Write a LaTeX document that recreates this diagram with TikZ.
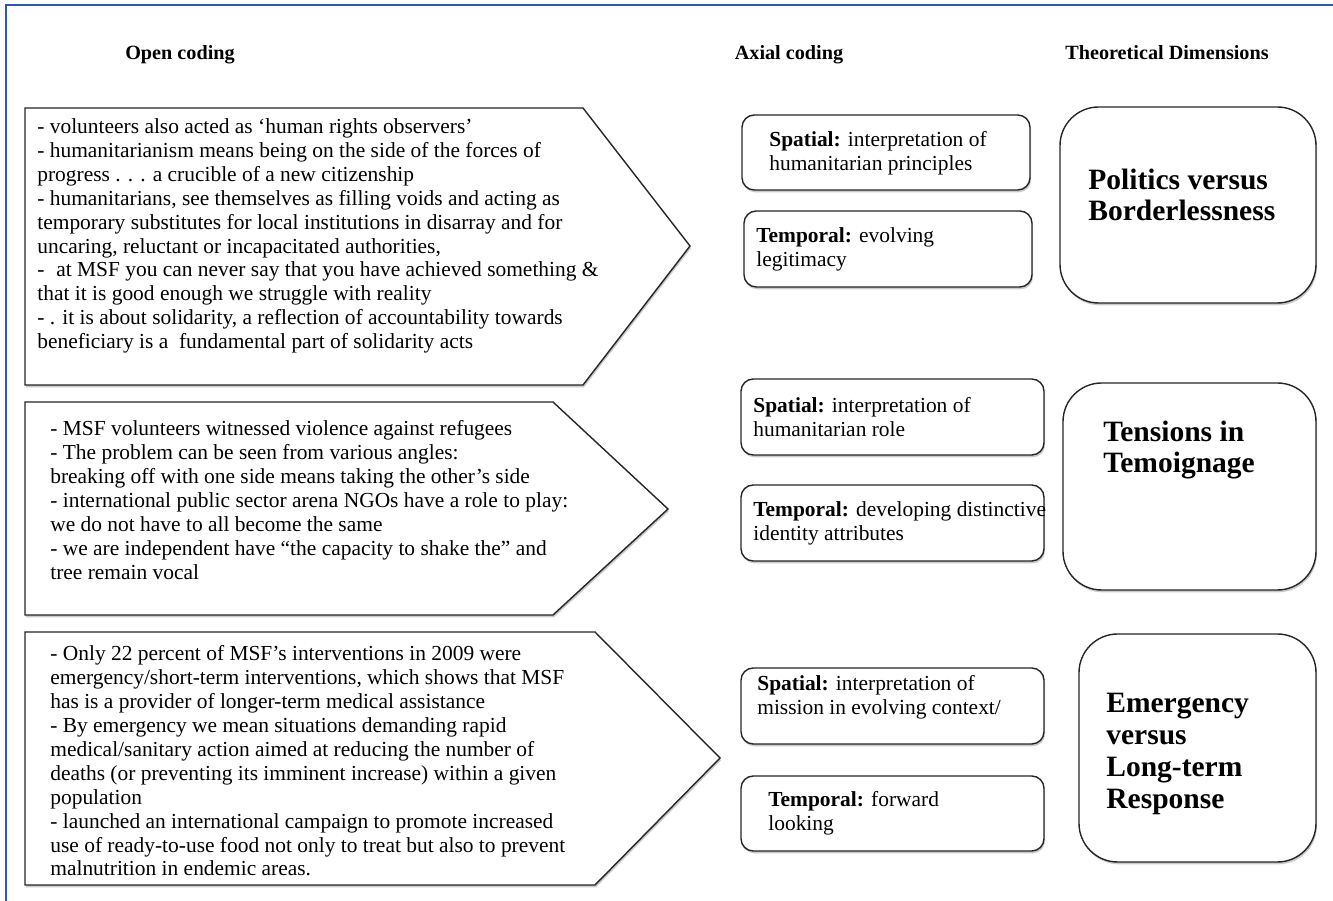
\documentclass[tikz,border=0pt]{standalone}
\usepackage{fontspec}
\setmainfont{Liberation Serif}
\usetikzlibrary{shadows}
\definecolor{frameblue}{RGB}{45,85,200}

\begin{document}
\begin{tikzpicture}[x=0.02cm,y=-0.02cm,
	coding/.style={draw=black!85,line width=0.8pt,fill=white,drop shadow={shadow xshift=0.6pt,shadow yshift=-1.3pt,fill=black!35,opacity=0.6}},
	axial/.style={coding,rounded corners=7pt},
	dimension/.style={coding,rounded corners=22pt},
	head/.style={anchor=base,inner sep=0pt,font=\fontsize{11.5}{14}\selectfont\bfseries},
	quote/.style={anchor=west,align=left,inner sep=0pt,font=\fontsize{12.2}{13.6}\selectfont},
	dimtext/.style={anchor=west,align=left,inner sep=0pt,font=\fontsize{16.8}{18.1}\selectfont\bfseries}]
	\useasboundingbox (0,0) rectangle (1333,901);
	\draw[frameblue,line width=1.2pt] (6,901)--(6,5)--(1333,5);
	% column heads
	\node[head] (headopen) at (180,60) {Open coding};
	\node[head] (headaxial) at (789,60) {Axial coding};
	\node[head] (headdim) at (1167,60) {Theoretical Dimensions};
	% open coding arrows
	\draw[coding] (25,108)--(583,108)--(690,246)--(583,385)--(25,385)--cycle;
	\draw[coding] (25,402)--(553,402)--(668,509)--(553,615)--(25,615)--cycle;
	\draw[coding] (25,632)--(595,632)--(720,758)--(595,885)--(25,885)--cycle;
	\node[quote] (open1) at (37,236) {- volunteers also acted as ‘human rights observers’\\
		- humanitarianism means being on the side of the forces of\\
		progress . . . a crucible of a new citizenship\\
		- humanitarians, see themselves as filling voids and acting as\\
		temporary substitutes for local institutions in disarray and for\\
		uncaring, reluctant or incapacitated authorities,\\
		-\hspace{0.55em}at MSF you can never say that you have achieved something \&\\
		that it is good enough we struggle with reality\\
		- . it is about solidarity, a reflection of accountability towards\\
		beneficiary is a\ \ fundamental part of solidarity acts};
	\node[quote] (open2) at (50,500) {- MSF volunteers witnessed violence against refugees\\
		- The problem can be seen from various angles:\\
		breaking off with one side means taking the other’s side\\
		- international public sector arena NGOs have a role to play:\\
		we do not have to all become the same\\
		- we are independent have “the capacity to shake the” and\\
		tree remain vocal};
	\node[quote] (open3) at (50,761) {- Only 22 percent of MSF’s interventions in 2009 were\\
		emergency/short-term interventions, which shows that MSF\\
		has is a provider of longer-term medical assistance\\
		- By emergency we mean situations demanding rapid\\
		medical/sanitary action aimed at reducing the number of\\
		deaths (or preventing its imminent increase) within a given\\
		population\\
		- launched an international campaign to promote increased\\
		use of ready-to-use food not only to treat but also to prevent\\
		malnutrition in endemic areas.};
	% axial coding boxes
	\draw[axial] (742,115) rectangle (1030,190);
	\draw[axial] (744,211) rectangle (1032,287);
	\draw[axial] (741,379) rectangle (1044,455);
	\draw[axial] (741,485) rectangle (1044,561);
	\draw[axial] (741,668) rectangle (1044,744);
	\draw[axial] (741,776) rectangle (1044,851);
	\node[quote] (spatial1) at (769,153) {\textbf{Spatial:} interpretation of\\humanitarian principles};
	\node[quote] (temporal1) at (756,249) {\textbf{Temporal:} evolving\\legitimacy};
	\node[quote] (spatial2) at (753,417) {\textbf{Spatial:} interpretation of\\humanitarian role};
	\node[quote] (temporal2) at (753,523) {\textbf{Temporal:} developing distinctive\\identity attributes};
	\node[quote] (spatial3) at (757,697) {\textbf{Spatial:} interpretation of\\mission in evolving context/};
	\node[quote] (temporal3) at (768,813) {\textbf{Temporal:} forward\\looking};
	% theoretical dimensions
	\draw[dimension] (1060,107) rectangle (1316,303);
	\draw[dimension] (1063,383) rectangle (1316,590);
	\draw[dimension] (1079,634) rectangle (1316,862);
	\node[dimtext] (politics) at (1088,195) {Politics versus\\Borderlessness};
	\node[dimtext] (tensions) at (1103,450) {Tensions in\\Temoignage};
	\node[dimtext] (emergency) at (1106,754) {Emergency\\versus\\Long-term\\Response};
\end{tikzpicture}
\end{document}
